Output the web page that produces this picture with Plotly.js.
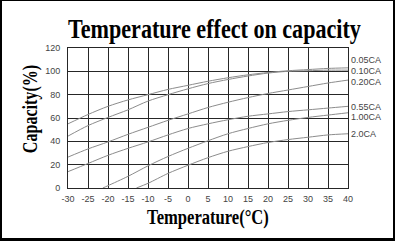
<!DOCTYPE html>
<html>
<head>
<meta charset="utf-8">
<script src="https://cdn.plot.ly/plotly-3.0.1.min.js"></script>
<style>
html,body{margin:0;padding:0;background:#fff;}
#wrap{position:relative;width:395px;height:241px;overflow:hidden;}
#chart{position:absolute;left:0;top:0;width:395px;height:241px;}
#frame{position:absolute;left:0;top:0;width:395px;height:241px;box-sizing:border-box;
border-style:solid;border-color:#000;border-width:1px 2px 3px 2px;pointer-events:none;}
</style>
</head>
<body>
<div id="wrap"><div id="chart"></div><div id="frame"></div></div>
<script>
var temps = [-30, -25, -20, -15, -10, -5, 0, 5, 10, 15, 20, 25, 30, 35, 40];
var cap005 = [55, 63, 70, 75.5, 80, 84.5, 88, 91.5, 94.5, 97, 99, 100.5, 101.5, 102.5, 103];
var cap010 = [44.5, 53.5, 60.5, 67, 74.5, 80, 85, 89.5, 93, 96, 98.5, 100, 100.5, 101, 101];
var cap020 = [26.5, 33.5, 39.5, 46, 52, 58, 63.5, 69, 73.5, 77.5, 81, 84, 87, 90, 92.5];
var cap055 = [14, 21, 28, 34, 39.5, 45.5, 51, 55, 58.5, 61.5, 63.5, 65.5, 67, 68.5, 70];
var temps100 = [-21.3, -20, -15, -10, -5, 0, 5, 10, 15, 20, 25, 30, 35, 40];
var cap100 = [0, 2, 10, 19, 27, 34, 40.5, 46.5, 51, 55, 58, 60.5, 62.5, 64.5];
var temps200 = [-12.9, -10, -5, 0, 5, 10, 15, 20, 25, 30, 35, 40];
var cap200 = [0, 4, 12.5, 19.5, 26, 31.5, 35.5, 39, 41.5, 43.5, 45.5, 46.5];
var seriesNames = ["0.05CA", "0.10CA", "0.20CA", "0.55CA", "1.00CA", "2.0CA"];
var labelY = [109.5, 100, 90.6, 69.2, 60.6, 46];
var xTicks = [-30, -25, -20, -15, -10, -5, 0, 5, 10, 15, 20, 25, 30, 35, 40];
var yTicks = [0, 20, 40, 60, 80, 100, 120];

var xs = [temps, temps, temps, temps, temps100, temps200];
var ys = [cap005, cap010, cap020, cap055, cap100, cap200];

var traces = ys.map(function (y, i) {
  return {
    x: xs[i], y: y, name: seriesNames[i], type: 'scatter', mode: 'lines',
    line: {color: '#8c8c8c', width: 1, shape: 'spline', smoothing: 0.8},
    hoverinfo: 'skip', showlegend: false
  };
});

var tickFont = {family: '"Liberation Sans Narrow", "Arial Narrow", sans-serif', size: 9, color: '#444'};
var serif = '"Liberation Serif", "Times New Roman", serif';

var annotations = seriesNames.map(function (n, i) {
  return {
    text: n, x: 1, xref: 'paper', xanchor: 'left', xshift: 1,
    y: labelY[i], yref: 'y', yanchor: 'middle', showarrow: false,
    font: tickFont
  };
});

var layout = {
  width: 395, height: 241,
  margin: {l: 68, r: 47, t: 48, b: 53, pad: 0},
  paper_bgcolor: '#fff', plot_bgcolor: '#fff',
  title: {
    text: '<b>Temperature effect on capacity</b>',
    font: {family: serif, size: 28, color: '#000'},
    x: 0.543, xref: 'container', xanchor: 'center',
    y: 0.885, yref: 'container', yanchor: 'middle'
  },
  xaxis: {
    range: [-30, 40], tickvals: xTicks, ticktext: xTicks.map(String),
    showgrid: true, gridcolor: '#262626', gridwidth: 1,
    showline: true, linecolor: '#262626', linewidth: 1, mirror: true,
    zeroline: false, ticks: '', tickfont: tickFont, ticklabelstandoff: 2,
    title: {text: '<b>Temperature(°C)</b>', font: {family: serif, size: 20, color: '#000'}, standoff: 7}
  },
  yaxis: {
    range: [0, 120], tickvals: yTicks, ticktext: yTicks.map(String),
    showgrid: true, gridcolor: '#262626', gridwidth: 1,
    showline: true, linecolor: '#262626', linewidth: 1, mirror: true,
    zeroline: false, ticks: '', tickfont: tickFont, ticklabelstandoff: 5,
    title: {text: '<b>Capacity(%)</b>', font: {family: serif, size: 22, color: '#000'}, standoff: 6}
  },
  annotations: annotations
};

function squeeze(sel, sx, sy, dx, dy) {
  var el = document.querySelector(sel);
  if (!el) return;
  var x = parseFloat(el.getAttribute('x')) || 0;
  var y = parseFloat(el.getAttribute('y')) || 0;
  var t = el.getAttribute('transform') || '';
  el.setAttribute('transform',
    'translate(' + (x + dx) + ',' + (y + dy) + ') scale(' + sx + ',' + sy + ') translate(' + (-x) + ',' + (-y) + ') ' + t);
}

Plotly.newPlot('chart', traces, layout, {staticPlot: true, displayModeBar: false}).then(function () {
  squeeze('.gtitle', 0.79, 1, 0, 0);
  squeeze('.xtitle', 0.83, 1, 0, 0);
  squeeze('.ytitle', 1, 0.73, 5, -9);
});
</script>
</body>
</html>
